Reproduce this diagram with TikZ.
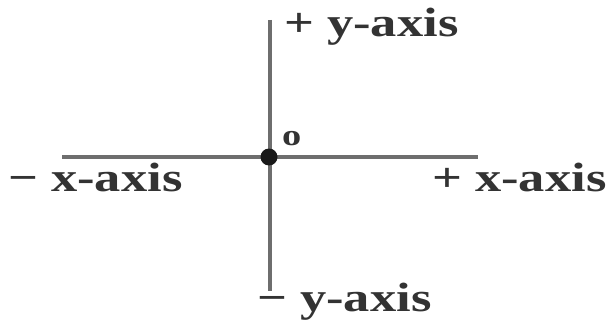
\documentclass[tikz,border=0pt]{standalone}
\usepackage{fontspec}
\setmainfont{Liberation Serif}
\usepackage{graphicx}
\definecolor{axisgray}{HTML}{6E6E6E}
\definecolor{textgray}{HTML}{333333}
\tikzset{
  axisline/.style={draw=axisgray, line width=4.2pt},
  lbl/.style={anchor=base west, inner sep=0pt, text=textgray, font=\bfseries\fontsize{41}{48}\selectfont},
  originlbl/.style={anchor=base west, inner sep=0pt, text=textgray, font=\bfseries\fontsize{30}{34}\selectfont},
  origindot/.style={circle, fill=black!90, inner sep=0pt, minimum size=17pt}
}
\newcommand{\stretchtxt}[1]{\scalebox{1.28}[1]{#1}}
\begin{document}
\begin{tikzpicture}[x=1pt,y=-1pt]
  \useasboundingbox (0,0) rectangle (613,321);
  \coordinate (xl) at (62,157);
  \coordinate (xr) at (478,157);
  \coordinate (yt) at (270,20);
  \coordinate (yb) at (270,291);
  \draw[axisline] (xl) -- (xr);
  \draw[axisline] (yt) -- (yb);
  \node[origindot] (o) at (269,157) {};
  \node[originlbl] (olbl) at (282,145) {\stretchtxt{o}};
  \node[lbl] (ypos) at (284,37) {\stretchtxt{+ y-axis}};
  \node[lbl] (yneg) at (257,311) {\stretchtxt{− y-axis}};
  \node[lbl] (xneg) at (8,191) {\stretchtxt{− x-axis}};
  \node[lbl] (xpos) at (432,191) {\stretchtxt{+ x-axis}};
\end{tikzpicture}
\end{document}
